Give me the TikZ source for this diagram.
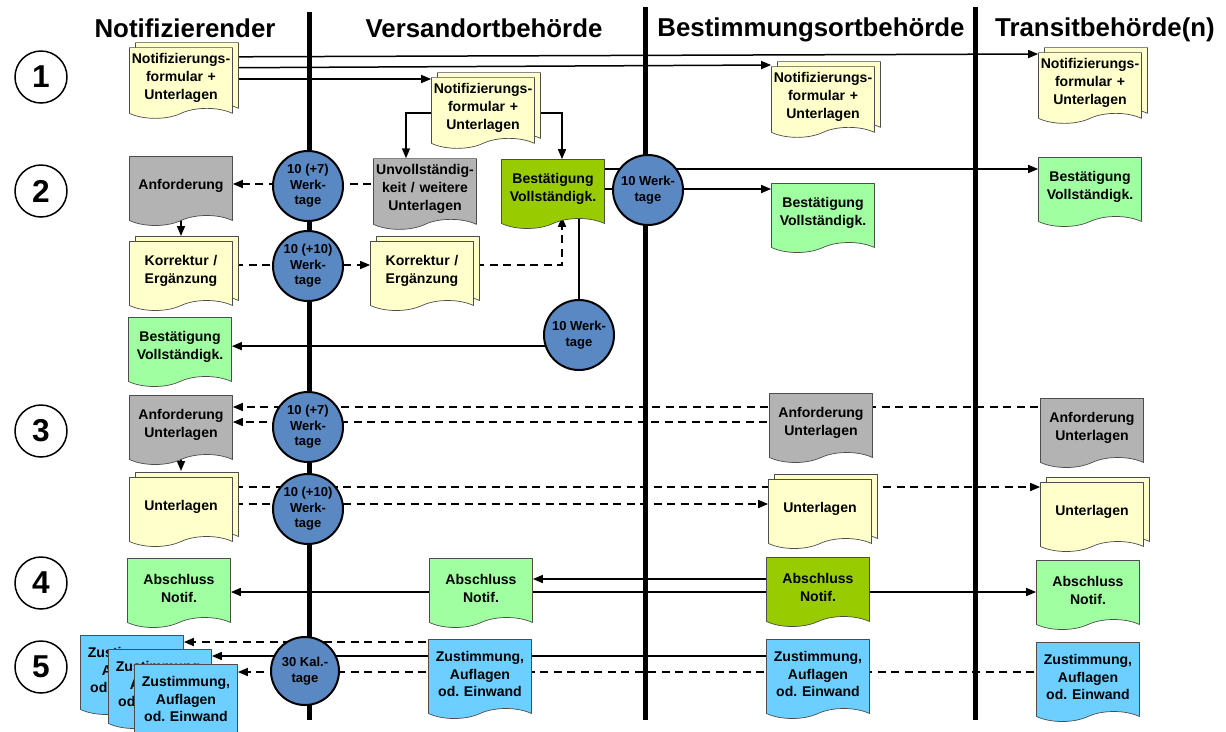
\documentclass[tikz,border=0pt]{standalone}
\usepackage{fontspec}
\setmainfont{Liberation Sans}
\usetikzlibrary{arrows.meta,shapes.symbols,shadows,backgrounds}
\definecolor{docyellow}{HTML}{FFFFCC}
\definecolor{docgray}{HTML}{B3B3B3}
\definecolor{docgreen}{HTML}{A0FFA0}
\definecolor{doclime}{HTML}{99CC00}
\definecolor{docblue}{HTML}{6DCFFF}
\definecolor{dayblue}{HTML}{5A88C2}
\frenchspacing
\begin{document}
\begin{tikzpicture}[x=0.2mm,y=-0.2mm,>={Triangle[length=2mm,width=1.6mm]},line join=round,
	doc/.style={tape,tape bend top=none,tape bend bottom=in and out,tape bend height=2mm,draw=black!70,fill=#1,
		minimum width=20.6mm,minimum height=13.8mm,text width=20mm,inner xsep=0.3mm,align=center,
		font=\fontsize{8}{10.2}\selectfont\bfseries},
	docs/.style={doc=#1,copy shadow={shadow xshift=1.2mm,shadow yshift=1mm,fill=#1,draw=black!70}},
	tall/.style={minimum height=15.8mm},
	days/.style={circle,draw,line width=0.4mm,fill=dayblue,minimum size=14mm,inner sep=0,align=center,
		font=\fontsize{7.4}{8.9}\selectfont\bfseries},
	stage/.style={circle,draw,line width=0.3mm,minimum size=10.4mm,inner sep=0,font=\fontsize{18}{18}\selectfont\bfseries},
	lane/.style={line width=1mm},
	flow/.style={->,line width=0.3mm},
	wait/.style={flow,dash pattern=on 1.6mm off 1.1mm}]
	\useasboundingbox (0,0) rectangle (1226,731);
	% Spaltenkoepfe und Schritte
	\foreach \x/\y/\t in {185/28/Notifizierender,484/28/Versandortbehörde,811/30/Bestimmungsortbehörde,1105/30/Transitbehörde(n)}
		\node[font=\fontsize{14.7}{16}\selectfont\bfseries] at (\x,\y) {\t};
	\foreach \n/\y in {1/77,2/191,3/431,4/583,5/667}
		\node[stage] (S\n) at (41,\y) {\n};
	% 1
	\node[docs=docyellow] (N1) at (181,78) {Notifizierungs-\\formular +\\Unterlagen};
	\node[docs=docyellow] (V1) at (483,108) {Notifizierungs-\\formular +\\Unterlagen};
	\node[docs=docyellow] (B1) at (823,97) {Notifizierungs-\\formular +\\Unterlagen};
	\node[docs=docyellow] (T1) at (1090,83) {Notifizierungs-\\formular +\\Unterlagen};
	% 2
	\node[doc=docgray] (N2a) at (181,186) {Anforderung};
	\node[doc=docgray] (V2a) at (425,189) {Unvollständig-\\keit / weitere\\Unterlagen};
	\node[doc=doclime] (V2c) at (553,189) {Bestätigung\\Vollständigk.};
	\node[doc=docgreen] (B2) at (823,213) {Bestätigung\\Vollständigk.};
	\node[doc=docgreen] (T2) at (1090,187) {Bestätigung\\Vollständigk.};
	\node[docs=docyellow] (N2b) at (181,271) {Korrektur /\\Ergänzung};
	\node[docs=docyellow] (V2b) at (422,271) {Korrektur /\\Ergänzung};
	\node[doc=docgreen] (N2c) at (180,347) {Bestätigung\\Vollständigk.};
	\node[days] (C2a) at (308,186) {10 (+7)\\Werk-\\tage};
	\node[days] (C2b) at (308,266) {10 (+10)\\Werk-\\tage};
	\node[days] (C2c) at (648,190) {10 Werk-\\tage};
	\node[days] (C2d) at (579,335) {10 Werk-\\tage};
	% 3
	\node[doc=docgray] (N3a) at (181,425) {Anforderung\\Unterlagen};
	\node[doc=docgray] (B3a) at (821,423) {Anforderung\\Unterlagen};
	\node[doc=docgray] (T3a) at (1092,428) {Anforderung\\Unterlagen};
	\node[docs=docyellow] (N3b) at (181,507) {Unterlagen};
	\node[docs=docyellow] (B3b) at (820,509) {Unterlagen};
	\node[docs=docyellow] (T3b) at (1092,512) {Unterlagen};
	\node[days] (C3a) at (308,427) {10 (+7)\\Werk-\\tage};
	\node[days] (C3b) at (308,509) {10 (+10)\\Werk-\\tage};
	% 4
	\node[doc=docgreen] (N4) at (179,588) {Abschluss\\Notif.};
	\node[doc=docgreen] (V4) at (481,588) {Abschluss\\Notif.};
	\node[doc=doclime] (B4) at (818,587) {Abschluss\\Notif.};
	\node[doc=docgreen] (T4) at (1088,590) {Abschluss\\Notif.};
	% 5
	\foreach \n/\x/\y in {N5a/132/670,N5b/160/684,N5c/186/699,V5/480/674,B5/818/674,T5/1088/677}
		\node[doc=docblue,tall] (\n) at (\x,\y) {Zustimmung,\\Auflagen\\od. Einwand};
	\node[days,minimum size=13.6mm] (C5) at (305,671) {30 Kal.-\\tage};
	\begin{scope}[on background layer]
		\foreach \x/\y in {309/12,645/7,975/7} \draw[lane] (\x,\y) -- (\x,720);
		\draw[flow] (N1.center |- 0,57) -- (T1.west |- 0,54);
		\draw[flow] (N1.center |- 0,68) -- (B1.west |- 0,65);
		\draw[flow] (N1.center |- 0,79) -- (V1.west |- 0,79);
		\draw[flow] (V1.center |- 0,113) -| ([xshift=-3.8mm]V2a.north);
		\draw[flow] (V1.center |- 0,113) -| ([xshift=1.8mm]V2c.north);
		\draw[wait] (V2a.center |- 0,184) -- (N2a.east |- 0,184);
		\draw[flow] (N2a.center) -- (N2b.north |- 0,236);
		\draw[wait] (N2b.center |- 0,265) -- (V2b.west |- 0,265);
		\draw[wait] (V2b.center |- 0,265) -| ([xshift=1.8mm,yshift=0.4mm]V2c.south);
		\draw[line width=0.3mm] (V2c.center -| C2d.north) -- (C2d.north);
		\draw[flow] (C2d.198) -- (N2c.east |- C2d.198);
		\draw[flow] (V2c.center |- 0,169) -- (T2.west |- 0,169);
		\draw[flow] (V2c.center |- 0,189) -- (B2.west |- 0,189);
		\draw[wait] (T3a.center |- 0,407) -- (N3a.east |- 0,407);
		\draw[wait] (B3a.center |- 0,422) -- (N3a.east |- 0,422);
		\draw[flow] (N3a.center) -- (N3b.north |- 0,471);
		\draw[wait] (N3b.center |- 0,487) -- (T3b.west |- 0,487);
		\draw[wait] (N3b.center |- 0,504) -- (B3b.west |- 0,504);
		\draw[flow] (B4.center |- 0,579) -- (V4.east |- 0,579);
		\draw[flow] (B4.center |- 0,592) -- (N4.east |- 0,592);
		\draw[flow] (B4.center |- 0,592) -- (T4.west |- 0,592);
		\draw[wait] (V5.center |- 0,642) -- (N5a.east |- 0,642);
		\draw[flow] (B5.center |- 0,656) -- (N5b.east |- 0,656);
		\draw[wait] (T5.center |- 0,672) -- (N5c.east |- 0,672);
	\end{scope}
\end{tikzpicture}
\end{document}
